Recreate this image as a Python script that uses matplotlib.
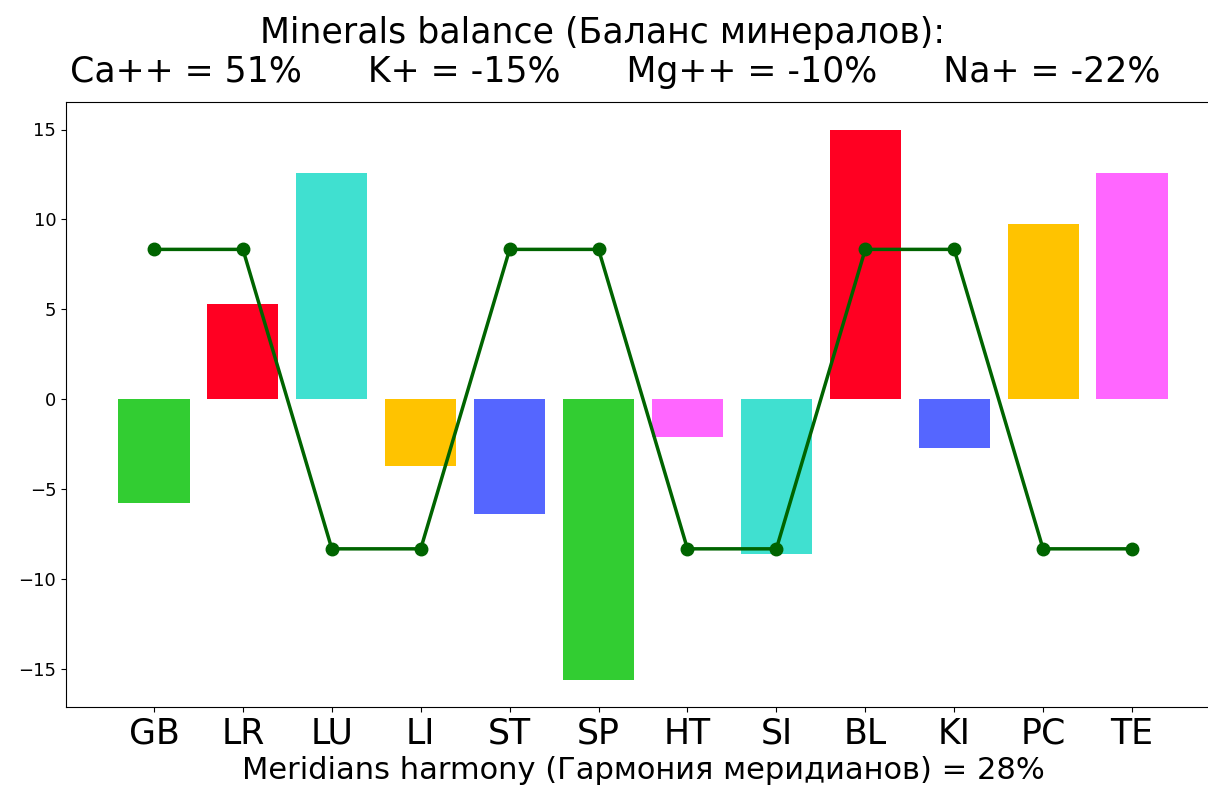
import matplotlib
matplotlib.use("Agg")
import matplotlib.pyplot as plt

# meridians and their balance values
meridians = ["GB", "LR", "LU", "LI", "ST", "SP", "HT", "SI", "BL", "KI", "PC", "TE"]
balance = [-5.8, 5.3, 12.6, -3.7, -6.4, -15.6, -2.1, -8.6, 15.0, -2.7, 9.75, 12.6]
harmony = [8.33, 8.33, -8.33, -8.33, 8.33, 8.33, -8.33, -8.33, 8.33, 8.33, -8.33, -8.33]
bar_colors = ["#32CD32", "#FF0022", "#40E0D0", "#FFC300", "#5566FF", "#32CD32",
              "#FF66FF", "#40E0D0", "#FF0022", "#5566FF", "#FFC300", "#FF66FF"]

minerals = ["Ca++ = 51%", "K+ = -15%", "Mg++ = -10%", "Na+ = -22%"]

fig = plt.figure(figsize=(12.08, 7.87), dpi=100)
ax = fig.add_axes([66 / 1208, 80 / 787, 1154 / 1208, 605 / 787])

x = range(len(meridians))
ax.bar(x, balance, color=bar_colors, width=0.8)
ax.plot(x, harmony, color="darkgreen", linewidth=2.5, marker="o", markersize=9)

ax.set_xticks(list(x))
ax.set_xticklabels(meridians, fontsize=25)
ax.tick_params(axis="y", labelsize=13)
ax.set_xlabel("Meridians harmony (Гармония меридианов) = 28%", fontsize=22, labelpad=4)

fig.text(603 / 1208, 1 - 33 / 787, "Minerals balance (Баланс минералов):",
         ha="center", va="center", fontsize=25)
fig.text(615 / 1208, 1 - 72 / 787, "      ".join(minerals),
         ha="center", va="center", fontsize=25)

fig.savefig("out.png", dpi=100)
